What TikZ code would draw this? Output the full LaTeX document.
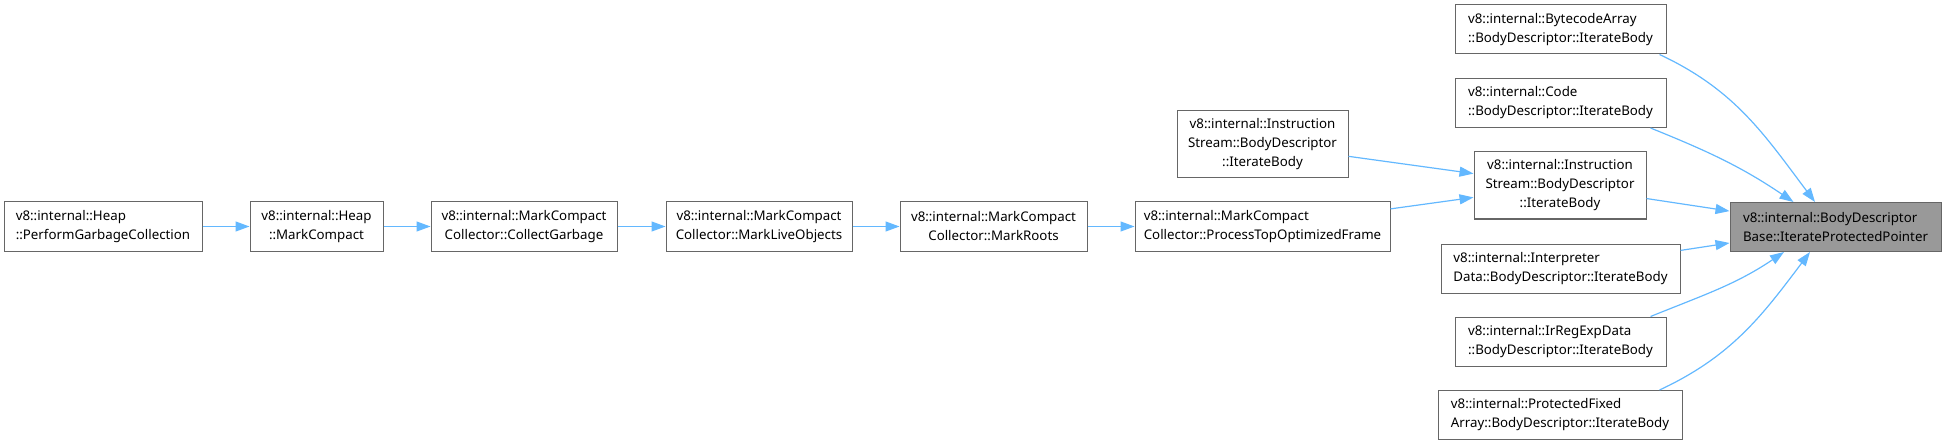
\documentclass[tikz,border=0pt]{standalone}
\usepackage{fontspec}
\setmainfont{Noto Sans}
\usetikzlibrary{arrows.meta}
\definecolor{edgeblue}{HTML}{63B8FF}
\definecolor{boxgray}{HTML}{666666}
\definecolor{hlfill}{HTML}{999999}

\begin{document}
\begin{tikzpicture}[x=1pt, y=1pt, >={Triangle[length=14pt, width=10pt]},
    fn/.style={draw=boxgray, line width=1pt, fill=white, inner sep=2pt,
               minimum height=49pt, font=\fontsize{13.3}{19}\selectfont},
    hl/.style={fn, fill=hlfill},
    edge/.style={->, draw=edgeblue, line width=1.2pt}]
  \useasboundingbox (0,0) rectangle (1945,445);

  % call chain from the heap
  \node[fn, minimum width=198pt, align=left]   (pgc)  at (103,218.5)    {v8::internal::Heap\\::PerformGarbageCollection};
  \node[fn, minimum width=133pt, align=center] (hmc)  at (316.5,218.5)  {v8::internal::Heap\\::MarkCompact};
  \node[fn, minimum width=186pt, align=center] (cg)   at (524,218.5)    {v8::internal::MarkCompact\\Collector::CollectGarbage};
  \node[fn, minimum width=186pt, align=center] (mlo)  at (759,218.5)    {v8::internal::MarkCompact\\Collector::MarkLiveObjects};
  \node[fn, minimum width=187pt, align=center] (mr)   at (993.5,218.5)  {v8::internal::MarkCompact\\Collector::MarkRoots};
  \node[fn, minimum width=255pt, align=left]   (ptof) at (1262.5,218.5) {v8::internal::MarkCompact\\Collector::ProcessTopOptimizedFrame};

  % instruction stream bodies
  \node[fn, minimum width=171pt, minimum height=67pt, align=center] (isl) at (1262.5,300.5) {v8::internal::Instruction\\Stream::BodyDescriptor\\::IterateBody};
  \node[fn, minimum width=172pt, minimum height=67pt, align=center] (isr) at (1560,259.5)   {v8::internal::Instruction\\Stream::BodyDescriptor\\::IterateBody};

  % other callers
  \node[fn, minimum width=211pt, align=left] (ba) at (1560.5,415.5) {v8::internal::BytecodeArray\\::BodyDescriptor::IterateBody};
  \node[fn, minimum width=211pt, align=left] (cd) at (1560.5,342)   {v8::internal::Code\\::BodyDescriptor::IterateBody};
  \node[fn, minimum width=239pt, align=left] (id) at (1560.5,176.5) {v8::internal::Interpreter\\Data::BodyDescriptor::IterateBody};
  \node[fn, minimum width=211pt, align=left] (ir) at (1560.5,103.5) {v8::internal::IrRegExpData\\::BodyDescriptor::IterateBody};
  \node[fn, minimum width=244pt, align=left] (pf) at (1560,30)      {v8::internal::ProtectedFixed\\Array::BodyDescriptor::IterateBody};

  % the function itself
  \node[hl, minimum width=211pt, align=left] (gr) at (1835.5,218) {v8::internal::BodyDescriptor\\Base::IterateProtectedPointer};

  % straight edges
  \draw[edge] (pgc) -- (hmc);
  \draw[edge] (hmc) -- (cg);
  \draw[edge] (cg) -- (mlo);
  \draw[edge] (mlo) -- (mr);
  \draw[edge] (mr) -- (ptof);
  \draw[edge] (ptof) -- (isr);
  \draw[edge] (isl) -- (isr);
  \draw[edge] (isr) -- (gr);
  \draw[edge] (id) -- (gr);

  % curved edges into the highlighted node
  \draw[edge] ([xshift=-7]ba.south east) to[out=-25, in=127] ([xshift=-20.5]gr.north);
  \draw[edge] ([xshift=-16]cd.south east) to[out=-22, in=146] ([xshift=-42]gr.north);
  \draw[edge] ([xshift=-16]ir.north east) to[out=22, in=-146] ([xshift=-51.5]gr.south);
  \draw[edge] ([xshift=-23]pf.north east) to[out=25, in=-127] ([xshift=-25.5]gr.south);
\end{tikzpicture}
\end{document}
